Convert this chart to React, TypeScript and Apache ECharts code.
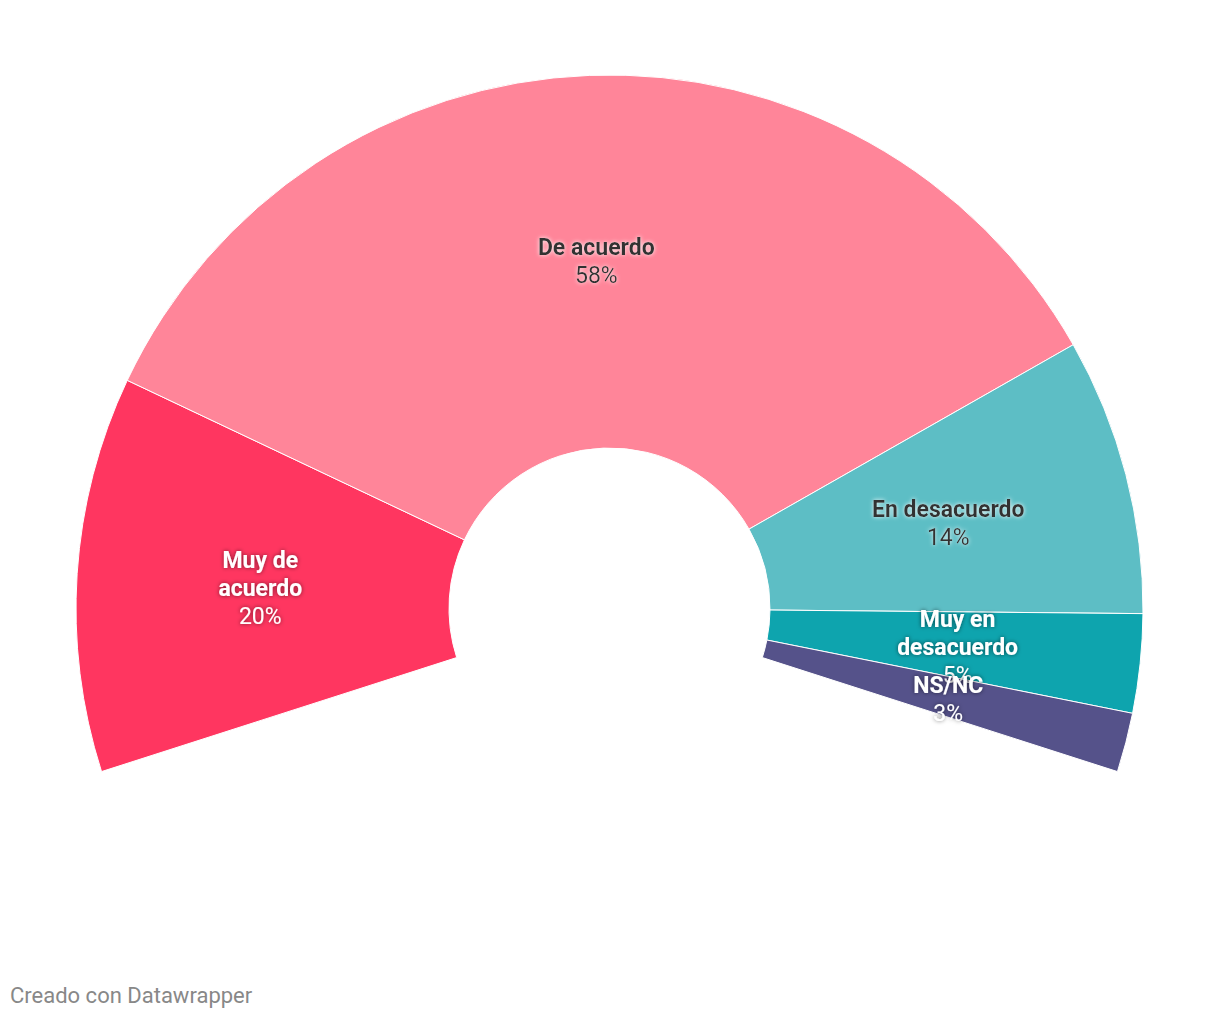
import React, { useEffect, useRef } from "react";
import * as echarts from "echarts";

const categories = ["Muy de acuerdo", "De acuerdo", "En desacuerdo", "Muy en desacuerdo", "NS/NC"];
const labelNames = ["Muy de\nacuerdo", "De acuerdo", "En desacuerdo", "Muy en\ndesacuerdo", "NS/NC"];
const values = [20, 58, 14, 5, 3];
const colors = ["#ff3660", "#ff8599", "#5dbec5", "#0ea4ae", "#55528a"];
const darkText = [false, true, true, false, false];
const footer = "Creado con Datawrapper";

export default function App() {
  const ref = useRef<HTMLDivElement>(null);
  useEffect(() => {
    document.body.style.margin = "0";
    const chart = echarts.init(ref.current!, null, { renderer: "svg" });
    const data = categories.map((name, i) => {
      const dark = darkText[i];
      const txt = dark ? "#333333" : "#ffffff";
      const shadow = dark ? "rgba(255,255,255,0.9)" : "rgba(0,0,0,0.55)";
      return {
        name,
        value: values[i],
        itemStyle: { color: colors[i] },
        label: {
          show: true,
          color: txt,
          textShadowColor: shadow,
          textShadowBlur: 4,
          padding: [6, 0, 0, 0],
          rich: {
            n: { fontFamily: "Roboto", fontWeight: "bold", fontSize: 23, lineHeight: 28, color: txt, textShadowColor: shadow, textShadowBlur: 4 },
            v: { fontFamily: "Roboto", fontWeight: "normal", fontSize: 23, lineHeight: 28, color: txt, textShadowColor: shadow, textShadowBlur: 4 },
          },
          formatter: () => {
            const lines = labelNames[i].split("\n").map((l) => `{n|${l}}`).join("\n");
            return `${lines}\n{v|${values[i]}%}`;
          },
        },
      };
    });
    chart.setOption({
      animation: false,
      backgroundColor: "#ffffff",
      series: [
        {
          type: "pie",
          center: [609.5, 608.5],
          radius: [160.5, 533.5],
          startAngle: 197.8,
          endAngle: -17.8,
          clockwise: true,
          avoidLabelOverlap: false,
          minShowLabelAngle: 0,
          labelLayout: { hideOverlap: false },
          itemStyle: { borderColor: "#ffffff", borderWidth: 1 },
          label: { show: true, position: "inside", align: "center" },
          labelLine: { show: false },
          emphasis: { disabled: true },
          data,
        },
      ],
      graphic: [
        {
          type: "text",
          left: 10,
          top: 984,
          style: { text: footer, fill: "#888888", fontFamily: "Roboto", fontSize: 22 },
        },
      ],
    });
    return () => chart.dispose();
  }, []);
  return <div ref={ref} style={{ width: 1220, height: 1020 }} />;
}
